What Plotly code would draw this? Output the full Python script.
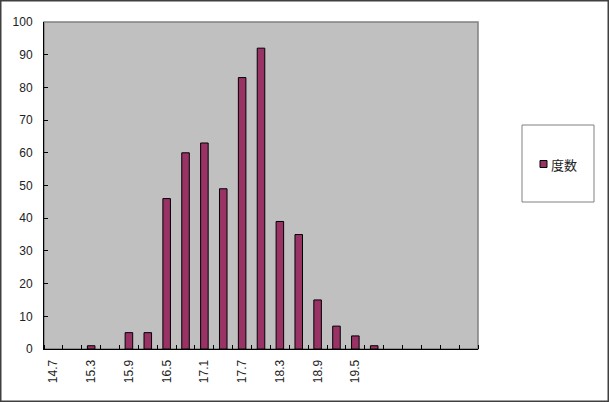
import plotly.graph_objects as go

# clases del histograma (eje x) y frecuencias
clases = [14.7, 15.0, 15.3, 15.6, 15.9, 16.2, 16.5, 16.8, 17.1, 17.4, 17.7, 18.0,
          18.3, 18.6, 18.9, 19.2, 19.5, 19.8, 20.1, 20.4, 20.7, 21.0, 21.3]
frecuencia = [0, 0, 1, 0, 5, 5, 46, 60, 63, 49, 83, 92,
              39, 35, 15, 7, 4, 1, 0, 0, 0, 0, 0]
etiquetas_x = [14.7, 15.3, 15.9, 16.5, 17.1, 17.7, 18.3, 18.9, 19.5]

W, H = 609, 402
L, R, T, B = 44, 131, 22, 53
pw, ph = W - L - R, H - T - B
FONT = "Liberation Sans"
FONT_JP = "Noto Sans CJK JP"
COLOR = "#993366"


def px(x):
    return (x - L) / pw


def py(y):
    return 1 - (y - T) / ph


fig = go.Figure()
fig.add_trace(go.Bar(
    x=clases, y=frecuencia, name="度数", showlegend=False,
    marker=dict(color=COLOR,
                line=dict(color="#000000", width=[1 if v else 0 for v in frecuencia])),
))

paso = clases[1] - clases[0]
fig.update_xaxes(
    range=[clases[0] - paso / 2, clases[-1] + paso / 2],
    tickvals=etiquetas_x, ticktext=[f"{v:.1f}" for v in etiquetas_x],
    tickangle=-90, ticks="", ticklabelstandoff=5,
    minor=dict(tick0=clases[0] - paso / 2, dtick=paso, ticks="inside",
               ticklen=4, tickcolor="#000000", showgrid=False),
    showline=True, linecolor="#000000", linewidth=1,
    showgrid=False, zeroline=False,
    tickfont=dict(family=FONT, size=12, color="#222222"),
)
fig.update_yaxes(
    range=[0, 100], dtick=10, ticks="inside", ticklen=4, tickcolor="#000000",
    showline=True, linecolor="#000000", linewidth=1,
    showgrid=False, zeroline=False, ticklabelstandoff=8,
    tickfont=dict(family=FONT, size=12, color="#222222"),
)

shapes = [
    # borde del área de trazado (arriba y derecha en gris)
    dict(type="rect", xref="paper", yref="paper", x0=0, x1=1, y0=0, y1=1,
         line=dict(color="#808080", width=1.5), layer="below"),
    # caja de la leyenda
    dict(type="rect", xref="paper", yref="paper",
         x0=px(522), x1=px(594), y0=py(202), y1=py(125),
         line=dict(color="#808080", width=1), fillcolor="#ffffff"),
    # símbolo de la leyenda
    dict(type="rect", xref="paper", yref="paper",
         x0=px(540), x1=px(547), y0=py(167.5), y1=py(160.5),
         line=dict(color="#000000", width=1), fillcolor=COLOR),
    # borde exterior del gráfico
    dict(type="rect", xref="paper", yref="paper",
         x0=px(0.75), x1=px(W - 0.75), y0=py(H - 0.75), y1=py(0.75),
         line=dict(color="#404040", width=1.5)),
]

fig.update_layout(
    width=W, height=H,
    margin=dict(l=L, r=R, t=T, b=B, autoexpand=False),
    paper_bgcolor="#ffffff", plot_bgcolor="#c0c0c0",
    bargap=0.6,
    showlegend=False,
    shapes=shapes,
    annotations=[dict(text="度数", xref="paper", yref="paper", x=px(549), y=py(164),
                      xanchor="left", yanchor="middle", showarrow=False,
                      font=dict(family=FONT_JP, size=13, color="#222222"))],
)

fig.write_html("out.html", config={"displayModeBar": False},
               post_script="document.body.style.margin='0';")
